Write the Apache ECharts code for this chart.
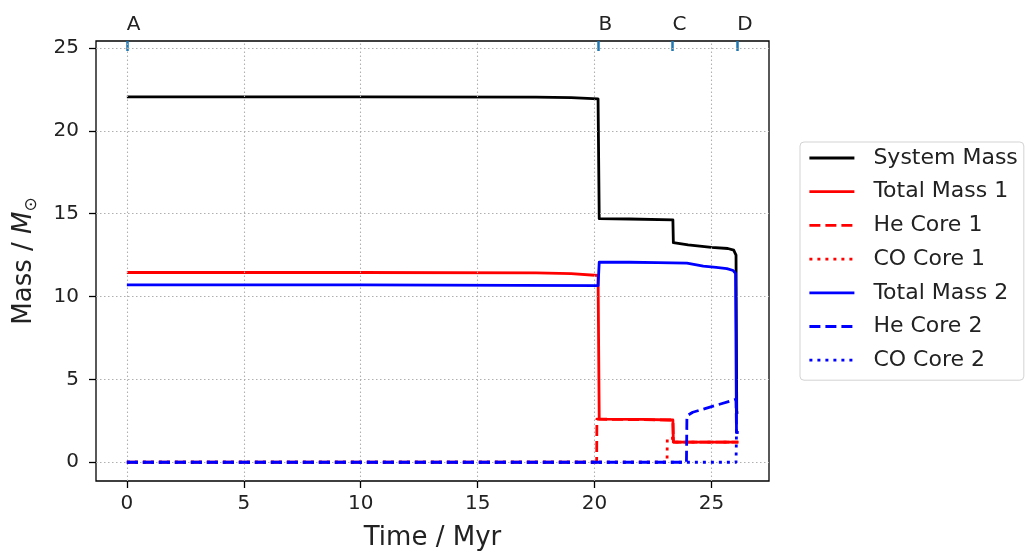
<!DOCTYPE html>
<html><head><meta charset="utf-8">
<script src="https://cdn.jsdelivr.net/npm/echarts@6/dist/echarts.min.js"></script>
<style>html,body{margin:0;padding:0;background:#fff}#c{width:1025px;height:556px}</style>
</head><body><div id="c"></div>
<script>
// ---- data ----
const xTicks = [0, 5, 10, 15, 20, 25];
const yTicks = [0, 5, 10, 15, 20, 25];
const eventLabels = ['A', 'B', 'C', 'D'];
const eventTimes = [0, 20.17, 23.33, 26.1];

const seriesNames = ['System Mass', 'Total Mass 1', 'He Core 1', 'CO Core 1', 'Total Mass 2', 'He Core 2', 'CO Core 2'];

const sysT = [0, 10, 17.5, 19.0, 20.15, 20.2, 21.5, 23.35, 23.37, 24.0, 25.0, 25.7, 25.95, 26.05, 26.08, 26.15];
const sysM = [22.05, 22.05, 22.03, 22.0, 21.93, 14.7, 14.68, 14.63, 13.25, 13.12, 12.97, 12.9, 12.8, 12.5, 3.0, 3.0];

const tot1T = [0, 10, 17.5, 19.0, 20.15, 20.2, 22.0, 23.35, 23.37, 26.15];
const tot1M = [11.45, 11.45, 11.43, 11.38, 11.27, 2.6, 2.59, 2.55, 1.22, 1.22];

const he1T = [0, 20.09, 20.1, 20.2, 23.35, 23.37, 26.15];
const he1M = [0, 0, 2.6, 2.6, 2.55, 1.22, 1.22];

const co1T = [0, 23.1, 23.11, 23.37, 23.38, 26.15];
const co1M = [0, 0, 1.45, 1.45, 1.22, 1.22];

const tot2T = [0, 10, 20.15, 20.2, 21.5, 22.7, 23.95, 24.65, 25.2, 25.66, 25.93, 26.03, 26.07, 26.15];
const tot2M = [10.7, 10.7, 10.66, 12.07, 12.07, 12.05, 12.02, 11.83, 11.76, 11.69, 11.57, 11.4, 1.8, 1.8];

const he2T = [0, 23.93, 23.95, 24.2, 25.94, 26.05, 26.07, 26.15];
const he2M = [0, 0, 2.8, 3.02, 3.75, 3.8, 1.8, 1.8];

const co2T = [0, 26.05, 26.07, 26.15];
const co2M = [0, 0, 1.8, 1.8];

// ---- chart ----
const FONT = 'DejaVu Sans';
const pairs = (t, m) => t.map((x, i) => [x, m[i]]);
const X_MIN = -1.32, X_MAX = 27.46, Y_MIN = -1.13, Y_MAX = 25.42;
const LW = 2.8;
const DASH = [11, 5];
const DOT = [3, 5];

function lineSeries(name, t, m, color, type, z) {
  return {
    name, type: 'line', data: pairs(t, m), showSymbol: false, symbol: 'none',
    lineStyle: { color, width: LW, type, cap: 'butt', join: 'round' },
    itemStyle: { color }, z, animation: false
  };
}

const gridLineStyle = { color: '#b0b0b0', width: 1.1, type: [1.5, 2.5] };

const option = {
  animation: false,
  backgroundColor: '#fff',
  grid: { left: 94, right: 256, top: 41, bottom: 74, show: true, borderColor: '#000', borderWidth: 1.3, backgroundColor: 'transparent' },
  legend: {
    orient: 'vertical', left: 800, top: 142,
    padding: [5, 6, 9, 8],
    itemWidth: 45, itemHeight: 14, itemGap: 11.7,
    borderColor: '#d3d3d3', borderWidth: 1, borderRadius: 4, backgroundColor: '#fff',
    itemStyle: { opacity: 0 },
    lineStyle: { width: LW },
    textStyle: { fontSize: 22, color: '#222', fontFamily: FONT, padding: [0, 0, 0, 14] },
    data: seriesNames
  },
  xAxis: [
    {
      type: 'value', min: X_MIN, max: X_MAX, position: 'bottom',
      axisLine: { show: false, onZero: false },
      axisTick: { show: true, customValues: xTicks, length: 7, lineStyle: { color: '#000', width: 1.3 } },
      axisLabel: { customValues: xTicks, fontSize: 20, color: '#222', margin: 13, fontFamily: FONT },
      splitLine: { show: false },
      name: 'Time / Myr', nameLocation: 'middle', nameGap: 44,
      nameTextStyle: { fontSize: 26, color: '#222', fontFamily: FONT }
    },
    {
      type: 'value', min: X_MIN, max: X_MAX, position: 'top',
      axisLine: { show: false, onZero: false },
      axisTick: { show: true, inside: true, customValues: eventTimes, length: 10, lineStyle: { color: '#1f77b4', width: 2.5 } },
      axisLabel: {
        customValues: eventTimes, fontSize: 20, color: '#222', margin: 6, fontFamily: FONT, align: 'left', padding: [0, 0, 0, 0],
        formatter: v => {
          let best = 0;
          eventTimes.forEach((e, i) => { if (Math.abs(e - v) < Math.abs(eventTimes[best] - v)) best = i; });
          return eventLabels[best];
        }
      },
      splitLine: { show: false }
    }
  ],
  yAxis: {
    type: 'value', min: Y_MIN, max: Y_MAX,
    axisLine: { show: false, onZero: false },
    axisTick: { show: true, customValues: yTicks, length: 7, lineStyle: { color: '#000', width: 1.3 } },
    axisLabel: { customValues: yTicks, fontSize: 20, color: '#222', margin: 17, fontFamily: FONT },
    splitLine: { show: false },
    name: 'Mass / {i|M}{s|⊙}', nameLocation: 'middle', nameGap: 56, nameRotate: 90,
    nameTextStyle: {
      fontSize: 26, color: '#222', fontFamily: FONT, lineHeight: 32,
      rich: {
        i: { fontSize: 26, fontStyle: 'italic', fontFamily: FONT, color: '#222', lineHeight: 32 },
        s: { fontSize: 17, fontFamily: FONT, color: '#222', verticalAlign: 'bottom', lineHeight: 32 }
      }
    }
  },
  series: [
    {
      name: '__grid', type: 'line', data: [], z: 1, silent: true, animation: false,
      markLine: {
        silent: true, symbol: 'none', animation: false, label: { show: false },
        lineStyle: gridLineStyle,
        data: xTicks.map(v => ({ xAxis: v })).concat(yTicks.map(v => ({ yAxis: v })))
      }
    },
    lineSeries('System Mass', sysT, sysM, '#000000', 'solid', 2),
    lineSeries('Total Mass 1', tot1T, tot1M, '#ff0000', 'solid', 3),
    lineSeries('He Core 1', he1T, he1M, '#ff0000', DASH, 4),
    lineSeries('CO Core 1', co1T, co1M, '#ff0000', DOT, 5),
    lineSeries('Total Mass 2', tot2T, tot2M, '#0000ff', 'solid', 6),
    lineSeries('He Core 2', he2T, he2M, '#0000ff', DASH, 7),
    lineSeries('CO Core 2', co2T, co2M, '#0000ff', DOT, 8)
  ]
};

const chart = echarts.init(document.getElementById('c'), null, { renderer: 'canvas' });
chart.setOption(option);
</script>
</body></html>
